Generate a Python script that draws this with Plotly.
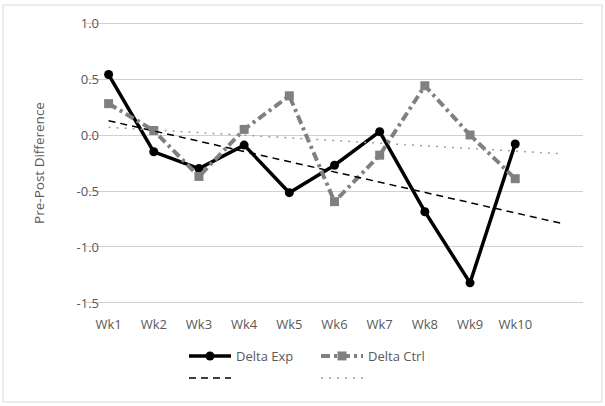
import numpy as np
import plotly.graph_objects as go

weeks = ["Wk1", "Wk2", "Wk3", "Wk4", "Wk5", "Wk6", "Wk7", "Wk8", "Wk9", "Wk10"]
delta_exp = [0.54, -0.15, -0.30, -0.09, -0.515, -0.27, 0.03, -0.685, -1.32, -0.08]
delta_ctrl = [0.28, 0.04, -0.37, 0.05, 0.35, -0.595, -0.18, 0.44, 0.00, -0.39]
y_ticks = [-1.5, -1.0, -0.5, 0.0, 0.5, 1.0]

x = np.arange(1, len(weeks) + 1)
x_trend = np.array([1, len(weeks) + 1])  # forecast one period forward
pe = np.polyfit(x, delta_exp, 1)
pc = np.polyfit(x, delta_ctrl, 1)

W, H = 605, 406
ml, mr, mt, mb = 86, 22, 21, 101
pw, ph = W - ml - mr, H - mt - mb

fig = go.Figure()
fig.add_trace(go.Scatter(x=x, y=delta_exp, name="Delta Exp", mode="lines+markers",
                         line=dict(color="black", width=3.5),
                         marker=dict(symbol="circle", size=9, color="black"),
                         legend="legend"))
fig.add_trace(go.Scatter(x=x, y=delta_ctrl, name="Delta Ctrl", mode="lines+markers",
                         line=dict(color="#808080", width=4, dash="9px,4px,3px,4px"),
                         marker=dict(symbol="square", size=9, color="#808080"),
                         legend="legend"))
fig.add_trace(go.Scatter(x=x_trend, y=np.polyval(pe, x_trend), name=" ", mode="lines",
                         line=dict(color="black", width=1.5, dash="7px,5px"),
                         legend="legend2"))
fig.add_trace(go.Scatter(x=x_trend, y=np.polyval(pc, x_trend), name="  ", mode="lines",
                         line=dict(color="#a0a0a0", width=1.5, dash="2px,6px"),
                         legend="legend2"))

font = dict(family="Open Sans, Liberation Sans, sans-serif", size=13, color="#595959")
leg_common = dict(orientation="h", xref="container", yref="container", xanchor="left", yanchor="middle",
                  font=font, itemwidth=42, entrywidth=75, entrywidthmode="pixels",
                  bgcolor="rgba(0,0,0,0)", tracegroupgap=0)

fig.update_layout(
    width=W, height=H,
    margin=dict(l=ml, r=mr, t=mt, b=mb, autoexpand=False),
    paper_bgcolor="white", plot_bgcolor="white",
    font=font,
    showlegend=True,
    legend=dict(x=184 / W, y=1 - 356 / H, **leg_common),
    legend2=dict(x=184 / W, y=1 - 378 / H, **leg_common),
    xaxis=dict(range=[0.5, len(weeks) + 1.5], tickvals=list(x), ticktext=weeks,
               showgrid=False, zeroline=False, showline=False, ticks="", ticklen=0, tickfont=font,
               automargin=False, ticklabelstandoff=10),
    yaxis=dict(range=[-1.518, 1.018], tickvals=y_ticks, ticktext=[f"{v:.1f}" for v in y_ticks],
               showgrid=True, gridcolor="#d0d0d0", gridwidth=1, zeroline=False, showline=False,
               ticks="", ticklen=0, tickfont=font, automargin=False, layer="below traces",
               ticklabelstandoff=-14,
               title=dict(text="Pre-Post Difference", font=dict(font, size=13.5), standoff=28)),
    shapes=[dict(type="rect", xref="paper", yref="paper",
                 x0=(3 - ml) / pw, x1=(W - 3 - ml) / pw,
                 y0=1 - (H - 4 - mt) / ph, y1=1 + (mt - 5) / ph,
                 line=dict(color="#d9d9d9", width=1), fillcolor="rgba(0,0,0,0)")],
)

fig.write_html("out.html", config={"displayModeBar": False},
               post_script="document.body.style.margin='0px';document.body.style.overflow='hidden';")
